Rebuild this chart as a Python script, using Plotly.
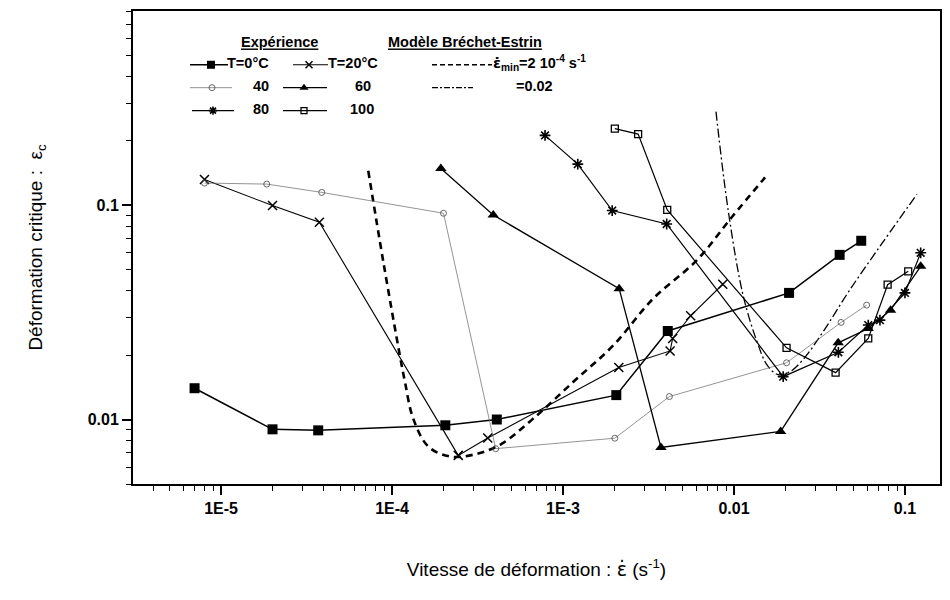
import plotly.graph_objects as go

# ---------------- data ----------------
x_T0 = [7.0e-6, 2.0e-5, 3.7e-5, 2.05e-4, 4.1e-4, 2.05e-3, 4.1e-3, 0.021, 0.0415, 0.0555]
y_T0 = [0.0140, 0.0090, 0.0089, 0.0094, 0.0100, 0.0130, 0.0259, 0.0390, 0.0587, 0.0683]

x_T20 = [8.0e-6, 2.0e-5, 3.76e-5, 2.44e-4, 3.63e-4, 2.12e-3, 4.23e-3, 4.38e-3, 5.58e-3, 8.6e-3]
y_T20 = [0.132, 0.0997, 0.0833, 0.0068, 0.0082, 0.0175, 0.0209, 0.0239, 0.0305, 0.0428]

x_T40 = [8.0e-6, 1.85e-5, 3.88e-5, 2.0e-4, 4.04e-4, 2.01e-3, 4.19e-3, 0.0203, 0.0423, 0.0597]
y_T40 = [0.127, 0.1256, 0.1149, 0.0918, 0.00731, 0.00818, 0.0128, 0.0184, 0.0284, 0.0342]

x_T60 = [1.93e-4, 3.91e-4, 2.13e-3, 3.74e-3, 0.01875, 0.0407, 0.061, 0.0824, 0.1236]
y_T60 = [0.1486, 0.0901, 0.0408, 0.00741, 0.0088, 0.0228, 0.0266, 0.0324, 0.0519]

x_T80 = [7.85e-4, 1.22e-3, 1.94e-3, 4.04e-3, 0.0194, 0.0408, 0.061, 0.0714, 0.1, 0.1236]
y_T80 = [0.212, 0.1556, 0.0945, 0.0818, 0.01585, 0.0206, 0.0276, 0.0291, 0.039, 0.060]

x_T100 = [2.01e-3, 2.75e-3, 4.07e-3, 0.0203, 0.0393, 0.061, 0.0792, 0.1045]
y_T100 = [0.228, 0.215, 0.0951, 0.0216, 0.01655, 0.0239, 0.0426, 0.0492]

# Bréchet-Estrin model, eps_min = 2e-4 s^-1 (dashed)
x_mod1 = [7.26e-5, 8.9e-5, 1.11e-4, 1.19e-4, 1.33e-4, 1.63e-4, 2.18e-4, 2.99e-4, 4.28e-4,
          6.7e-4, 1.15e-3, 1.97e-3, 3.37e-3, 6.05e-3, 9.7e-3, 0.0152]
y_mod1 = [0.145, 0.0543, 0.0200, 0.0150, 0.0101, 0.00748, 0.00672, 0.00685, 0.00762,
          0.0101, 0.0150, 0.0222, 0.0367, 0.0553, 0.0879, 0.135]

# Bréchet-Estrin model, eps_min = 0.02 (dash-dot)
x_mod2 = [7.85e-3, 9.23e-3, 0.0113, 0.01364, 0.0156, 0.0181, 0.0212, 0.0253, 0.0331,
          0.0476, 0.0743, 0.1175]
y_mod2 = [0.2735, 0.0958, 0.0381, 0.0231, 0.0180, 0.0162, 0.0167, 0.0190, 0.0256,
          0.0403, 0.0673, 0.1125]

x_tickvals = [1e-5, 1e-4, 1e-3, 1e-2, 1e-1]
x_ticktext = ["1E-5", "1E-4", "1E-3", "0.01", "0.1"]
y_tickvals = [0.01, 0.1]
y_ticktext = ["0.01", "0.1"]

FONT = "Liberation Sans, Arial, sans-serif"
BLACK = "black"
EPSDOT = "<span style=\"font-family:'DejaVu Sans'\">ε\u0307</span>"

# plot area in page pixels (page body has an 8px margin)
PX0, PX1, PY0, PY1 = 133, 940, 9, 484

styles = {
    "T0":   dict(line=dict(color=BLACK, width=1.5), marker=dict(symbol="square", size=10, color=BLACK)),
    "T20":  dict(line=dict(color=BLACK, width=1.1), marker=dict(symbol="x-thin-open", size=9, color=BLACK, line=dict(width=1.5, color=BLACK))),
    "T40":  dict(line=dict(color="#666666", width=0.7), marker=dict(symbol="circle-open", size=6, color="#444444", line=dict(width=0.8))),
    "T60":  dict(line=dict(color=BLACK, width=1.3), marker=dict(symbol="triangle-up", size=10, color=BLACK)),
    "T80":  dict(line=dict(color=BLACK, width=1.2), marker=dict(symbol="asterisk-open", size=9, color=BLACK, line=dict(width=1.6, color=BLACK))),
    "T100": dict(line=dict(color=BLACK, width=1.2), marker=dict(symbol="square-open", size=7, color=BLACK, line=dict(width=1.3))),
}

fig = go.Figure()

series = [("T0", x_T0, y_T0), ("T20", x_T20, y_T20), ("T40", x_T40, y_T40),
          ("T60", x_T60, y_T60), ("T80", x_T80, y_T80), ("T100", x_T100, y_T100)]

fig.add_trace(go.Scatter(x=x_mod1, y=y_mod1, mode="lines", line_shape="spline",
                         line=dict(color=BLACK, width=2.6, dash="7px,5px"), showlegend=False))
fig.add_trace(go.Scatter(x=x_mod2, y=y_mod2, mode="lines", line_shape="spline",
                         line=dict(color=BLACK, width=1.3, dash="9px,3px,2px,3px"), showlegend=False))

for key, xs, ys in series:
    st = styles[key]
    fig.add_trace(go.Scatter(x=xs, y=ys, mode="lines+markers", line=st["line"],
                             marker=st["marker"], showlegend=False))

# ---------------- hand-made legend (overlay axis in page pixels) ----------------
leg_rows = [63, 86, 109]
leg_items = [
    ("T0", 190, 228, 211, leg_rows[0]), ("T20", 293, 328, 309, leg_rows[0]),
    ("T40", 190, 232, 212, leg_rows[1]), ("T60", 283, 327, 304, leg_rows[1]),
    ("T80", 192, 234, 213, leg_rows[2]), ("T100", 283, 327, 304, leg_rows[2]),
]
for key, xa, xb, xm, yy in leg_items:
    st = styles[key]
    fig.add_trace(go.Scatter(x=[xa, xb], y=[yy, yy], xaxis="x2", yaxis="y2", mode="lines",
                             line=st["line"], showlegend=False, hoverinfo="skip"))
    mk = dict(st["marker"])
    mk["size"] = max(6, mk["size"] - 2)
    fig.add_trace(go.Scatter(x=[xm], y=[yy], xaxis="x2", yaxis="y2", mode="markers",
                             marker=mk, showlegend=False, hoverinfo="skip"))

fig.add_trace(go.Scatter(x=[432, 492], y=[leg_rows[0], leg_rows[0]], xaxis="x2", yaxis="y2",
                         mode="lines", line=dict(color=BLACK, width=1.6, dash="5px,3px"),
                         showlegend=False, hoverinfo="skip"))
fig.add_trace(go.Scatter(x=[432, 473], y=[leg_rows[1], leg_rows[1]], xaxis="x2", yaxis="y2",
                         mode="lines", line=dict(color=BLACK, width=1.2, dash="6px,2px,2px,2px"),
                         showlegend=False, hoverinfo="skip"))

leg_texts = ["<u>Expérience</u>", "<u>Modèle Bréchet-Estrin</u>", "T=0°C", "T=20°C",
             "40", "60", "80", "100",
             EPSDOT + "<sub>min</sub>=2 10<sup>-4</sup> s<sup>-1</sup>", "=0.02"]
leg_text_x = [241, 388, 227, 328, 253, 355, 253, 350, 493, 516]
leg_text_y = [42, 42, leg_rows[0], leg_rows[0], leg_rows[1], leg_rows[1],
              leg_rows[2], leg_rows[2], leg_rows[0], leg_rows[1]]

fig.add_trace(go.Scatter(x=leg_text_x, y=leg_text_y, xaxis="x2", yaxis="y2", mode="text",
                         text=leg_texts, textposition="middle right",
                         textfont=dict(family=FONT, size=14.5, color=BLACK, weight="bold"),
                         showlegend=False, hoverinfo="skip", cliponaxis=False))

minor_x = [m * 10.0 ** e for e in range(-6, 0) for m in range(2, 10)]
minor_y = [m * 10.0 ** e for e in range(-3, 0) for m in range(2, 10)]

fig.update_layout(
    width=942, height=593,
    margin=dict(l=125, r=10, t=1, b=117),
    paper_bgcolor="white", plot_bgcolor="white",
    font=dict(family=FONT, color=BLACK),
    xaxis=dict(
        type="log", range=[-5.515, -0.795],
        tickmode="array", tickvals=x_tickvals, ticktext=x_ticktext,
        ticks="outside", ticklen=9, tickwidth=1.5, tickcolor=BLACK,
        minor=dict(tickmode="array", tickvals=minor_x, ticks="outside", ticklen=5,
                   tickwidth=1.3, tickcolor=BLACK, showgrid=False),
        showline=True, linewidth=2, linecolor=BLACK, mirror=True,
        showgrid=False, zeroline=False,
        tickfont=dict(family=FONT, size=16, color=BLACK, weight="bold"),
        title=dict(text="Vitesse de déformation : " + EPSDOT + " (s<sup>-1</sup>)",
                   font=dict(family=FONT, size=19, color=BLACK), standoff=46),
    ),
    yaxis=dict(
        type="log", range=[-2.301, -0.093],
        tickmode="array", tickvals=y_tickvals, ticktext=y_ticktext,
        ticks="outside", ticklen=9, tickwidth=1.5, tickcolor=BLACK,
        minor=dict(tickmode="array", tickvals=minor_y, ticks="outside", ticklen=5,
                   tickwidth=1.3, tickcolor=BLACK, showgrid=False),
        showline=True, linewidth=2, linecolor=BLACK, mirror=True,
        showgrid=False, zeroline=False,
        tickfont=dict(family=FONT, size=16, color=BLACK, weight="bold"),
        title=dict(text="Déformation critique :  ε<sub>c</sub>",
                   font=dict(family=FONT, size=19, color=BLACK), standoff=40),
    ),
    xaxis2=dict(overlaying="x", range=[PX0, PX1], visible=False, anchor="y2"),
    yaxis2=dict(overlaying="y", range=[PY1, PY0], visible=False, anchor="x2"),
)

fig.write_html("out.html")
